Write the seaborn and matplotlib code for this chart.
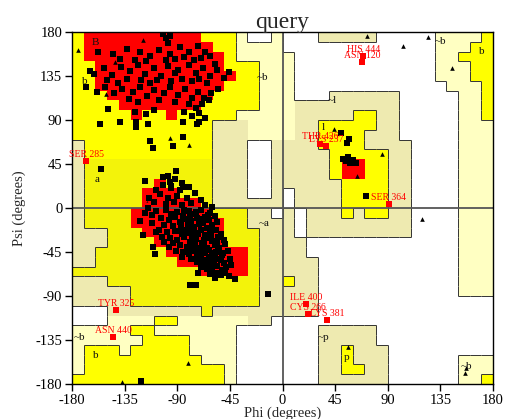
import numpy as np
import pandas as pd
import matplotlib
matplotlib.use('Agg')
import matplotlib.pyplot as plt
from matplotlib.colors import ListedColormap
from matplotlib.collections import LineCollection
import seaborn as sns

# Ramachandran region map, 10 degree cells, top row is psi 170..180, left column phi -180..-170
# '.' disallowed, 'l'/'b' generously allowed, 'Y'/'y' additionally allowed, 'R' core
region_rows = [
    "YRRRRR" "RRRRRY" "YYl..l" "...bbb" "bb...." ".llllY",
    "YRRRRR" "RRRRRR" "YYllll" "......" "......" ".lllYY",
    "YRRRRR" "RRRRRR" "RYllll" "l....." "......" ".llYYY",
    "YYRRRR" "RRRRRR" "RYYYll" "l....." "......" ".lllYY",
    "YYRRRR" "RRRRRR" "RRYYll" "l....." "......" ".lllYY",
    "YYRRRR" "RRRRRR" "RYYYll" "l....." "......" "..lllY",
    "YYYRRR" "RRRRRR" "YYYYll" "l...bb" "bbbb.." "...llY",
    "YYYYRR" "RRRRRY" "YYYYll" "lbbbbb" "bbbb.." "...llY",
    "YYYYYR" "YYRYYY" "YYllll" "lbbbbb" "YYbb.." "...llY",
    "YYYYYY" "YYYYYY" "bbblll" "lbbYYY" "YYbb.." "...lll",
    "YYYYYY" "YYYYYY" "bbblll" "lbbYYY" "Ybbb.." "...lll",
    "bYYYYY" "YYYYYY" "bbb..b" "bbbYYY" "Ybbbb." "...lll",
    "bYYYYY" "YYYYYY" "bbb..b" "bbbbYY" "YYYbb." "...lll",
    "byyyyy" "yyyyyy" "bbb..b" "bbbbYR" "RYYbb." "...lll",
    "byyyyy" "yyyyyy" "bbb..b" "bbbbYR" "RYYbb." "...lll",
    "byyyyy" "yRyyyy" "bbb..b" "bbbbbY" "YYYbb." "...lll",
    "byyyyy" "RRRyyy" "bbb..b" ".bbbbY" "YYYbb." "...lll",
    "byyyyy" "RRRRRy" "bbbbbb" ".bbbbY" "YYYbb." "...lll",
    "byyyyR" "RRRRRR" "yyybb." "b.bbbY" "bYYbb." "...lll",
    "byyyyR" "RRRRRR" "Ryybbb" "b.bbbb" "bbbbb." "...lll",
    "bbbyyy" "RRRRRR" "Ryyybb" "b.bbbb" "bbbbb." "...lll",
    "bbbyyy" "yRRRRR" "Ryyybb" "bb...." "......" "...lll",
    "bbyyyy" "yyRRRR" "RRRybb" "bb...." "......" "...lll",
    "bbyyyy" "yyyRRR" "RRRybb" "bbb..." "......" "...lll",
    "yyyyyy" "yyyyyR" "RRRybb" "bbb..." "......" "...lll",
    "bbbyyy" "yyyyyy" "yyyybb" "Ybb..." "......" "...lll",
    "bbbbby" "yyyyyy" "yyyybb" "bbb..." "......" "...lll",
    "bbbbby" "yyyyyy" "yyyybb" "bbb..." "......" "......",
    "...bbb" "bbbbby" "bbbbbb" "bbb..." "......" "......",
    "...lll" "lYYlll" "lllbb." "......" "......" "......",
    "lllllY" "Ylllll" "ll...." "...bbb" "bb...." "......",
    "llllll" "YYYYll" "ll...." "...bbb" "bb...." "......",
    "lYYYlY" "YYYYll" "ll...." "...bbY" "bbb..." "......",
    "lYYYYY" "YYYYYl" "ll...." "...bbY" "bbb..." "...lll",
    "lYYYYY" "YYYYYY" "Yl...." "...bbY" "Ybb..." "...lll",
    "YYYYYY" "YYYYYY" "Yl...." "...bbb" "bbb..." "...llY",
]
region_colors = {'.': '#FFFFFF', 'l': '#FFFFC2', 'b': '#EEEAB0',
                 'Y': '#FFFF00', 'y': '#F3F30A', 'R': '#FF0000'}

# black squares: non-glycine residues (phi, psi)
beta_points = [
    (-102, 178), (-100, 174), (-98, 169), (-96, 176),
    (-158, 160), (-145, 158), (-133, 163), (-122, 160), (-113, 156), (-106, 162), (-96, 158),
    (-88, 165), (-80, 160), (-72, 166), (-66, 160), (-62, 155), (-139, 152), (-126, 151),
    (-117, 150), (-100, 151), (-92, 152), (-84, 154), (-76, 151), (-70, 153),
    (-165, 140), (-153, 143), (-146, 136), (-138, 144), (-130, 140), (-124, 146), (-118, 137),
    (-110, 143), (-104, 135), (-98, 145), (-92, 138), (-86, 132), (-80, 146), (-74, 138),
    (-68, 143), (-62, 135), (-56, 141), (-50, 133), (-150, 131), (-141, 128), (-133, 132),
    (-121, 131), (-113, 128), (-107, 131), (-95, 130), (-89, 141), (-77, 130), (-71, 132),
    (-65, 128), (-58, 147), (-46, 139),
    (-152, 124), (-144, 118), (-137, 122), (-128, 119), (-122, 124), (-116, 115), (-110, 121),
    (-101, 118), (-96, 124), (-89, 116), (-83, 122), (-77, 113), (-72, 119), (-67, 113),
    (-61, 118), (-55, 122), (-131, 112), (-124, 108), (-106, 110), (-92, 108), (-80, 106),
    (-74, 102), (-69, 106), (-63, 110),
    (-149, 101), (-126, 98), (-117, 96), (-110, 100), (-84, 98), (-77, 94), (-71, 97),
    (-66, 92), (-71, 88), (-73, 86),
    (-168, 124), (-161, 137), (-159, 119), (-156, 86), (-139, 88), (-125, 88), (-125, 83),
    (-115, 86), (-113, 69), (-111, 61), (-94, 63), (-85, 73), (-85, 88), (-155, 40),
    (-118, 28), (-102, 32), (-91, 38), (-95, 23), (-85, 22),
]
alpha_points = [
    (-98, 33), (-92, 30), (-86, 26), (-102, 24), (-95, 20), (-80, 22), (-88, 18), (-75, 15),
    (-105, 14), (-98, 10), (-90, 12), (-82, 10), (-70, 8), (-110, 6), (-100, 4), (-93, 6),
    (-86, 3), (-78, 5), (-66, 3), (-115, 0), (-60, 1),
    (-108, -3), (-100, -2), (-95, -6), (-90, -4), (-85, -8), (-80, -3), (-75, -6), (-70, -2),
    (-66, -9), (-62, -5), (-104, -10), (-97, -12), (-92, -9), (-88, -14), (-83, -11),
    (-78, -13), (-73, -10), (-68, -15), (-63, -12), (-58, -8), (-112, -7), (-101, -17),
    (-94, -18), (-87, -20), (-81, -17), (-76, -19), (-71, -16), (-65, -20), (-60, -17), (-56, -14),
    (-106, -22), (-99, -25), (-92, -24), (-86, -27), (-80, -23), (-75, -26), (-70, -22),
    (-66, -28), (-62, -24), (-57, -22), (-53, -27), (-96, -31), (-90, -33), (-84, -30),
    (-79, -35), (-74, -32), (-69, -36), (-64, -31), (-60, -34), (-55, -30), (-50, -33),
    (-88, -38), (-82, -40), (-77, -38), (-72, -41), (-67, -39), (-63, -43), (-58, -38),
    (-54, -41), (-49, -37), (-101, -35), (-94, -36),
    (-85, -45), (-80, -47), (-75, -44), (-70, -48), (-66, -46), (-61, -50), (-57, -45),
    (-52, -48), (-47, -44), (-78, -52), (-73, -55), (-68, -53), (-64, -57), (-59, -55),
    (-55, -52), (-50, -56), (-45, -52), (-70, -60), (-65, -62), (-60, -61), (-56, -59),
    (-52, -63), (-48, -60), (-44, -58),
    (-62, -67), (-57, -66), (-53, -69), (-49, -66), (-46, -70), (-58, -72), (-72, -66),
    (-84, -2), (-79, -9), (-74, -4), (-69, -11), (-64, -7), (-89, -24), (-83, -22), (-77, -29),
    (-72, -27), (-67, -33), (-61, -29), (-56, -35), (-80, -42), (-75, -36), (-70, -44),
    (-65, -41), (-60, -46), (-55, -43), (-51, -46), (-87, -16), (-82, -26), (-77, -44),
    (-73, -49), (-68, -57), (-63, -52), (-58, -49), (-53, -53),
    (-112, -15), (-108, -25), (-103, -30), (-97, -40), (-91, -44), (-86, -50), (-118, -5),
    (-114, 10), (-108, 18), (-96, 27),
    (-122, -13), (-119, -28), (-111, -40), (-109, -47), (-79, -79), (-74, -79), (-41, -73),
    (-12, -88), (-121, -177),
]
left_points = [
    (50, 77), (57, 71), (55, 67), (56, 52), (52, 50), (58, 46), (63, 46), (54, 48),
    (60, 49), (71, 12),
]
# black triangles: glycines
gly_points = [
    (-175, 162), (-119, 172), (-143, 149), (-151, 117), (-96, 72), (-80, 64),
    (-137, -178), (-81, -158), (72, 176), (103, 166), (124, 175), (145, 143),
    (44, 81), (85, 55), (64, 33), (119, -11), (56, -142), (157, -164), (156, -169),
]
# residues in generously allowed / disallowed regions (red, labelled)
flag_names = ['SER 285', 'HIS 444', 'ASN 120', 'THR 426', 'LYS 237', 'SER 364',
              'TYR 325', 'ASN 440', 'ILE 400', 'CYS 266', 'LYS 381']
flag_phi = [-168, 69, 68, 32, 37, 91, -142, -145, 20, 22, 38]
flag_psi = [48, 155, 149, 66, 63, 4, -104, -132, -98, -108, -115]

region_label_text = ['B', 'b', 'a', 'A', '~a', '~b', '~l', 'l', '~b', 'b',
                     '~b', 'b', '~p', 'p', '~b']
region_label_phi = [-160, -169, -159, -113, -16, -17, 43, 35, 135, 170, -174, -160, 35, 55, 157]
region_label_psi = [169, 129, 29, 8, -16, 134, 110, 82, 170, 160, -132, -151, -132, -153, -162]

sns.set_style('white')
plt.rcParams['font.family'] = ['Liberation Serif', 'DejaVu Serif']
plt.rcParams['axes.unicode_minus'] = False

fig = plt.figure(figsize=(5.05, 4.19), dpi=100)
ax = fig.add_axes([0.1426, 0.0835, 0.8337, 0.840])

# background regions
codes = list(region_colors)
grid = np.array([[codes.index(ch) for ch in row] for row in region_rows])
cmap = ListedColormap([region_colors[c] for c in codes])
ax.imshow(grid, cmap=cmap, vmin=-0.5, vmax=len(codes) - 0.5, extent=(-180, 180, -180, 180),
          origin='upper', interpolation='nearest', aspect='auto', zorder=0)

# thin outlines where the allowed level changes (not between core and allowed)
level = {'.': 0, 'l': 1, 'b': 1, 'Y': 2, 'y': 2, 'R': 3}
lv = np.vectorize(lambda ch: level[ch])(np.array([list(r) for r in region_rows]))
segs = []
n = lv.shape[0]
for i in range(n):
    for j in range(n):
        if j < n - 1:
            a, b = lv[i, j], lv[i, j + 1]
            if a != b and {a, b} != {2, 3}:
                x = -180 + 10 * (j + 1)
                segs.append([(x, 180 - 10 * i), (x, 170 - 10 * i)])
        if i < n - 1:
            a, b = lv[i, j], lv[i + 1, j]
            if a != b and {a, b} != {2, 3}:
                y = 170 - 10 * i
                segs.append([(-180 + 10 * j, y), (-170 + 10 * j, y)])
ax.add_collection(LineCollection(segs, colors='#333333', linewidths=0.7, zorder=1))

ax.axhline(0, color='#555555', lw=1.3, zorder=1.5)
ax.axvline(0, color='#555555', lw=1.3, zorder=1.5)

res = pd.DataFrame(beta_points + alpha_points + left_points, columns=['phi', 'psi'])
gly = pd.DataFrame(gly_points, columns=['phi', 'psi'])
flags = pd.DataFrame({'name': flag_names, 'phi': flag_phi, 'psi': flag_psi})

sns.scatterplot(data=res, x='phi', y='psi', marker='s', s=19, color='black',
                linewidth=0, ax=ax, zorder=3)
sns.scatterplot(data=gly, x='phi', y='psi', marker='^', s=11, color='black',
                linewidth=0, ax=ax, zorder=3)
sns.scatterplot(data=flags, x='phi', y='psi', marker='s', s=22, color='red',
                linewidth=0, ax=ax, zorder=3)
for _, r in flags.iterrows():
    ax.annotate(r['name'], (r['phi'], r['psi']), xytext=(0, 1.5), textcoords='offset points',
                ha='center', va='bottom', fontsize=7, color='red', zorder=4,
                annotation_clip=False)

for t, px, py in zip(region_label_text, region_label_phi, region_label_psi):
    ax.text(px, py, t, fontsize=8, color='#111111', ha='center', va='center', zorder=2)

ax.set_xlim(-180, 180)
ax.set_ylim(-180, 180)
ticks = list(range(-180, 181, 45))
ax.set_xticks(ticks)
ax.set_yticks(ticks)
ax.tick_params(direction='out', length=5, width=1, colors='black', labelsize=10.5,
               bottom=True, left=True, pad=2)
for sp in ax.spines.values():
    sp.set_color('black')
    sp.set_linewidth(1)
ax.set_xlabel('Phi (degrees)', fontsize=10.5, labelpad=-0.5)
ax.set_ylabel('Psi (degrees)', fontsize=10.5, labelpad=7)
ax.set_title('query', fontsize=17, pad=3)

fig.savefig('out.png', dpi=100)
plt.close(fig)
